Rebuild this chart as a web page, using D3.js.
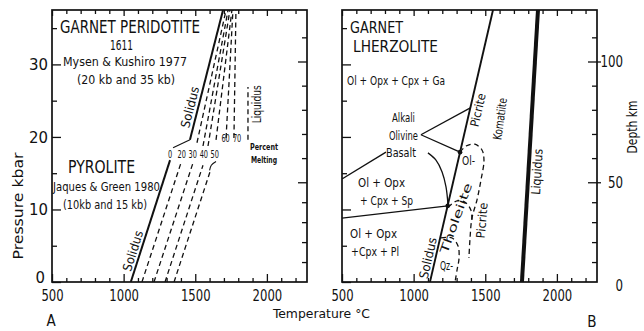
<!DOCTYPE html>
<html>
<head>
<meta charset="utf-8">
<script src="https://cdn.jsdelivr.net/npm/d3@7"></script>
<style>
  html, body { margin: 0; padding: 0; background: #fff; }
  svg { display: block; }
  text { font-family: "Liberation Sans Narrow", "DejaVu Sans Condensed", "Liberation Sans", sans-serif; fill: #111; }
</style>
</head>
<body>
<svg id="chart" width="644" height="331"></svg>
<script>
// ---------- axes ----------
const tempMajorTicks = [500, 1000, 1500, 2000];
const tempMinorTicks = [600, 700, 800, 900, 1100, 1200, 1300, 1400, 1600, 1700, 1800, 1900, 2100, 2200];
const pressureMajorTicks = [0, 10, 20, 30];
const pressureMinorTicks = [5, 15, 25, 35];
// depth (km) against pressure (kbar); lighter crust makes the scale non-linear
const depthKm = [0, 50, 100];
const depthKbar = [0, 13.75, 30.4];
const depthMajorTicks = [0, 50, 100];
const depthMinorTicks = [10, 20, 30, 40, 60, 70, 80, 90, 110];

// ---------- panel A: garnet peridotite 1611 (Mysen & Kushiro 1977) ----------
const mkSolidusT = [1463, 1694];
const mkSolidusP = [19.6, 37.5];
const mkPercent = ["20", "30", "40", "50", "60", "70"];
const mkLowT = [1512, 1554, 1589, 1645, 1715, 1770];
const mkLowP = [19.2, 18.75, 18.75, 19.6, 19.85, 19.85];
const mkTopT = [1715, 1729, 1742, 1756, 1763, 1784];
const mkTopP = [37.5, 37.5, 37.5, 37.5, 37.5, 37.5];
const mkLiquidusT = [1868, 1868];
const mkLiquidusP = [19.6, 26.9];

// ---------- panel A: pyrolite (Jaques & Green 1980) ----------
const pyPercent = ["0", "20", "30", "40", "50"];
const pyBaseT = [1050, 1128, 1212, 1289, 1352];
const pyTopT = [1324, 1400, 1484, 1554, 1603];
const pyTopP = [16.8, 16.4, 16.4, 16.1, 15.2];

// ---------- panel B: garnet lherzolite ----------
const lhSolidusT = [1114, 1554];
const lhSolidusP = [0, 37.5];
const lhLiquidusT = [1756, 1868];
const lhLiquidusP = [0, 37.5];
const garnetSpinelT = [500, 807];
const garnetSpinelP = [14.2, 17.9];
const basaltArcT = [1100, 1156, 1198, 1226, 1240];
const basaltArcP = [17.8, 16.8, 15.2, 13.1, 10.6];
const spinelPlagT = [500, 1238];
const spinelPlagP = [8.8, 10.5];
const olTholT = [1324, 1366, 1428, 1477, 1491, 1470, 1442, 1407, 1393, 1386];
const olTholP = [17.9, 18.75, 19.0, 18.2, 16.8, 14.06, 11.3, 8.8, 5.8, 3.3];
const tholArcT = [1240, 1303, 1359, 1400, 1407];
const tholArcP = [10.3, 11.2, 11.0, 9.9, 8.3];
const qzTholT = [1191, 1268, 1310, 1317, 1303, 1289];
const qzTholP = [6.07, 6.07, 4.96, 3.3, 1.65, 0];
const junctionT = [1324, 1238];
const junctionP = [17.9, 10.5];

const zip = (a, b) => a.map((v, i) => [v, b[i]]);

// ---------- scales ----------
const yP = d3.scaleLinear().domain([0, 37.5]).range([282, 10]);
const xA = d3.scaleLinear().domain([500, 2280]).range([52, 307]);
const xB = d3.scaleLinear().domain([500, 2280]).range([342, 597]);
const kmToKbar = d3.scaleLinear().domain(depthKm).range(depthKbar);
// axis-compatible depth scale (km -> pixel through the pressure scale)
const depthAxisScale = Object.assign(km => yP(kmToKbar(km)), {
  domain: () => [0, 120],
  range: () => [282, 10],
  copy: () => depthAxisScale,
  ticks: () => depthMajorTicks,
  tickFormat: () => d => d
});

const svg = d3.select("#chart");
const ink = "#111";
const DIGIT_W = 7.4;

function drawFrame(x, showLeftLabels, showRightLabels) {
  const g = svg.append("g");
  const [x0, x1] = x.range();
  const [yb, yt] = yP.range();

  const style = sel => {
    sel.select(".domain").remove();
    sel.selectAll("line").attr("stroke", ink).attr("stroke-width", 1.3);
    sel.selectAll("text").attr("fill", ink).style("font-size", "16px")
      .attr("textLength", function () { return this.textContent.length * DIGIT_W; })
      .attr("lengthAdjust", "spacingAndGlyphs");
  };
  const fmt = d3.format("d");

  // bottom
  g.append("g").attr("transform", `translate(0,${yb})`)
    .call(d3.axisBottom(x).tickValues(tempMinorTicks).tickSize(-4).tickFormat("")).call(style);
  g.append("g").attr("transform", `translate(0,${yb})`)
    .call(d3.axisBottom(x).tickValues(tempMajorTicks).tickSize(-8).tickPadding(8).tickFormat(fmt)).call(style);
  // top
  g.append("g").attr("transform", `translate(0,${yt})`)
    .call(d3.axisTop(x).tickValues(tempMinorTicks).tickSize(-4).tickFormat("")).call(style);
  g.append("g").attr("transform", `translate(0,${yt})`)
    .call(d3.axisTop(x).tickValues(tempMajorTicks).tickSize(-6).tickFormat("")).call(style);
  // left
  g.append("g").attr("transform", `translate(${x0},0)`)
    .call(d3.axisLeft(yP).tickValues(pressureMinorTicks).tickSize(-5).tickFormat("")).call(style);
  const left = g.append("g").attr("transform", `translate(${x0},0)`)
    .call(d3.axisLeft(yP).tickValues(pressureMajorTicks).tickSize(-9).tickPadding(4)
      .tickFormat(showLeftLabels ? fmt : "")).call(style);
  left.selectAll(".tick").filter(d => d === 0).select("text").attr("dy", "0.02em").attr("x", -7);
  left.selectAll(".tick text").attr("textLength", function () { return this.textContent.length * 9.5; });
  // right (depth)
  g.append("g").attr("transform", `translate(${x1},0)`)
    .call(d3.axisRight(depthAxisScale).tickValues(depthMinorTicks).tickSize(-5).tickFormat("")).call(style);
  g.append("g").attr("transform", `translate(${x1},0)`)
    .call(d3.axisRight(depthAxisScale).tickValues(depthMajorTicks.filter(d => d > 0)).tickSize(-9).tickFormat("")).call(style);
  if (showRightLabels) {
    const r = g.append("g").attr("transform", `translate(${x1},0)`)
      .call(d3.axisRight(depthAxisScale).tickValues(depthMajorTicks).tickSize(4).tickPadding(21).tickFormat(fmt)).call(style);
    r.selectAll(".tick").filter(d => d === 0).select("line").remove();
    r.selectAll("text").attr("text-anchor", "end").attr("x", 26)
      .attr("textLength", function () { return this.textContent.length * 7.5; });
    r.selectAll(".tick").filter(d => d === 0).select("text").attr("dy", "0.55em");
  }
  // frame
  g.append("rect").attr("x", x0).attr("y", yt).attr("width", x1 - x0).attr("height", yb - yt)
    .attr("fill", "none").attr("stroke", ink).attr("stroke-width", 1.7);
}

function clipFor(id, x) {
  const [x0, x1] = x.range();
  svg.append("clipPath").attr("id", id).append("rect")
    .attr("x", x0).attr("y", 10).attr("width", x1 - x0).attr("height", 272);
  return svg.append("g").attr("clip-path", `url(#${id})`);
}

function label(g, x, T, P, txt, o = {}) {
  const t = g.append("text").text(txt)
    .attr("font-size", o.size || 12)
    .attr("text-anchor", o.anchor || "start")
    .attr("font-weight", o.weight || "normal");
  if (o.len) t.attr("textLength", o.len).attr("lengthAdjust", "spacingAndGlyphs");
  if (o.rotate !== undefined) {
    t.attr("transform", `translate(${x(T)},${yP(P)}) rotate(${o.rotate})`).attr("dy", "0.35em");
  } else {
    t.attr("x", x(T)).attr("y", yP(P));
  }
  return t;
}

// ================= Panel A =================
drawFrame(xA, true, false);
const gA = clipFor("clipA", xA);
const lineA = d3.line().x(d => xA(d[0])).y(d => yP(d[1]));
const dashed = "5,3.5";

gA.append("path").attr("d", lineA(zip(mkSolidusT, mkSolidusP)))
  .attr("stroke", ink).attr("stroke-width", 2).attr("fill", "none");
mkPercent.forEach((p, i) => {
  gA.append("path").attr("d", lineA([[mkLowT[i], mkLowP[i]], [mkTopT[i], mkTopP[i]]]))
    .attr("stroke", ink).attr("stroke-width", 1.3).attr("fill", "none").attr("stroke-dasharray", dashed);
});
gA.append("path").attr("d", lineA(zip(mkLiquidusT, mkLiquidusP)))
  .attr("stroke", ink).attr("stroke-width", 1.3).attr("fill", "none").attr("stroke-dasharray", dashed);

pyPercent.forEach((p, i) => {
  const path = gA.append("path").attr("d", lineA([[pyBaseT[i], 0], [pyTopT[i], pyTopP[i]]]))
    .attr("stroke", ink).attr("fill", "none");
  if (i === 0) path.attr("stroke-width", 2);
  else path.attr("stroke-width", 1.3).attr("stroke-dasharray", dashed);
});

// leaders from the percent labels
gA.append("path").attr("d", lineA([[1345, 18.5], [mkSolidusT[0], mkSolidusP[0]]]))
  .attr("stroke", ink).attr("stroke-width", 1.1).attr("fill", "none");
gA.append("path").attr("d", d3.line().x(d => xA(d[0])).y(d => yP(d[1])).curve(d3.curveCatmullRom)(
  [[1645, 16.6], [1612, 16.1], [1600, 15.4]]))
  .attr("stroke", ink).attr("stroke-width", 1.1).attr("fill", "none");

// panel A text
label(svg, xA, 556, 34.3, "GARNET PERIDOTITE", { size: 17, len: 140 });
label(svg, xA, 905, 32.0, "1611", { size: 14, len: 23 });
label(svg, xA, 577, 29.8, "Mysen & Kushiro 1977", { size: 13, len: 124 });
label(svg, xA, 675, 27.3, "(20 kb  and 35 kb)", { size: 13, len: 98 });
label(svg, xA, 612, 15.0, "PYROLITE", { size: 17, len: 67 });
label(svg, xA, 507, 12.5, "Jaques & Green 1980", { size: 13, len: 107 });
label(svg, xA, 577, 10.1, "(10kb and 15 kb)", { size: 13, len: 84 });
label(svg, xA, 1463, 24.1, "Solidus", { size: 12.5, anchor: "middle", rotate: -75.8, len: 42 });
label(svg, xA, 1065, 4.3, "Solidus", { size: 12.5, anchor: "middle", rotate: -72.7, len: 42 });
label(svg, xA, 1931, 24.5, "Liquidus", { size: 12.5, anchor: "middle", rotate: -90, len: 38 });
const pctLabelT = [1325, 1405, 1482, 1560, 1636];
pyPercent.forEach((p, i) => label(svg, xA, pctLabelT[i], 17.1, p,
  { size: 10, anchor: "middle", len: p.length * 4.2 }));
label(svg, xA, 1712, 19.3, "60", { size: 10, anchor: "middle", len: 8.4 });
label(svg, xA, 1792, 19.3, "70", { size: 10, anchor: "middle", len: 8.4 });
label(svg, xA, 1980, 18.2, "Percent", { size: 9, anchor: "middle", weight: "bold", len: 28 });
label(svg, xA, 1980, 16.4, "Melting", { size: 9, anchor: "middle", weight: "bold", len: 26 });

// ================= Panel B =================
drawFrame(xB, false, true);
const gB = clipFor("clipB", xB);
const lineB = d3.line().x(d => xB(d[0])).y(d => yP(d[1]));
const curveB = d3.line().x(d => xB(d[0])).y(d => yP(d[1])).curve(d3.curveCatmullRom);

gB.append("path").attr("d", lineB(zip(lhSolidusT, lhSolidusP)))
  .attr("stroke", ink).attr("stroke-width", 1.9).attr("fill", "none");
gB.append("path").attr("d", lineB(zip(lhLiquidusT, lhLiquidusP)))
  .attr("stroke", ink).attr("stroke-width", 4).attr("fill", "none");
gB.append("path").attr("d", lineB(zip(garnetSpinelT, garnetSpinelP)))
  .attr("stroke", ink).attr("stroke-width", 1.3).attr("fill", "none");
gB.append("path").attr("d", curveB(zip(basaltArcT, basaltArcP)))
  .attr("stroke", ink).attr("stroke-width", 1.3).attr("fill", "none");
gB.append("path").attr("d", lineB(zip(spinelPlagT, spinelPlagP)))
  .attr("stroke", ink).attr("stroke-width", 1.3).attr("fill", "none");
// leaders from "Olivine"
gB.append("path").attr("d", lineB([[1051, 20.3], [1396, 24.0]]))
  .attr("stroke", ink).attr("stroke-width", 1.3).attr("fill", "none");
gB.append("path").attr("d", lineB([[1051, 20.3], [junctionT[0], junctionP[0]]]))
  .attr("stroke", ink).attr("stroke-width", 1.3).attr("fill", "none");
// melt-type boundaries
[[olTholT, olTholP], [tholArcT, tholArcP], [qzTholT, qzTholP]].forEach(([t, p]) => {
  gB.append("path").attr("d", curveB(zip(t, p)))
    .attr("stroke", ink).attr("stroke-width", 1.3).attr("fill", "none").attr("stroke-dasharray", "5,3.5");
});
gB.selectAll("circle.j").data(zip(junctionT, junctionP)).enter().append("circle")
  .attr("cx", d => xB(d[0])).attr("cy", d => yP(d[1])).attr("r", 2.3).attr("fill", ink);

// panel B text
label(svg, xB, 556, 34.3, "GARNET", { size: 16.5, len: 53 });
label(svg, xB, 577, 31.7, "LHERZOLITE", { size: 16.5, len: 85 });
label(svg, xB, 535, 27.2, "Ol + Opx + Cpx + Ga", { size: 11.5, len: 98 });
label(svg, xB, 929, 22.1, "Alkali", { size: 11.5, anchor: "middle", len: 23 });
label(svg, xB, 929, 19.6, "Olivine", { size: 11.5, anchor: "middle", len: 29 });
label(svg, xB, 912, 17.2, "Basalt", { size: 11.5, anchor: "middle", len: 30 });
label(svg, xB, 1449, 23.7, "Picrite", { size: 12, anchor: "middle", rotate: -77, len: 34 });
label(svg, xB, 1603, 22.5, "Komatiite", { size: 12, anchor: "middle", rotate: -82, len: 42 });
label(svg, xB, 1861, 15.2, "Liquidus", { size: 12.5, anchor: "middle", rotate: -86.6, len: 46 });
label(svg, xB, 1338, 16.1, "Ol-", { size: 12, len: 13 });
label(svg, xB, 1296, 8.8, "Tholeiite", { size: 11.5, anchor: "middle", rotate: -70, len: 74 });
label(svg, xB, 1184, 1.65, "Qz-", { size: 12, len: 13 });
label(svg, xB, 1100, 3.3, "Solidus", { size: 12.5, anchor: "middle", rotate: -77, len: 42 });
label(svg, xB, 1477, 8.5, "Picrite", { size: 12, anchor: "middle", rotate: -85, len: 36 });
label(svg, xB, 612, 13.1, "Ol + Opx", { size: 11.5, len: 47 });
label(svg, xB, 626, 10.6, "+ Cpx + Sp", { size: 11.5, len: 53 });
label(svg, xB, 556, 6.07, "Ol + Opx", { size: 11.5, len: 47 });
label(svg, xB, 563, 3.6, "+Cpx + Pl", { size: 11.5, len: 48 });

// ================= shared titles =================
svg.append("text").attr("x", 273).attr("y", 318).attr("font-size", 13)
  .attr("textLength", 97).attr("lengthAdjust", "spacingAndGlyphs").text("Temperature  °C");
svg.append("text").attr("transform", "translate(23,206) rotate(-90)").attr("text-anchor", "middle")
  .attr("font-size", 14).attr("textLength", 107).attr("lengthAdjust", "spacingAndGlyphs").text("Pressure  kbar");
svg.append("text").attr("transform", "translate(637,127) rotate(-90)").attr("text-anchor", "middle")
  .attr("font-size", 13.5).attr("textLength", 53).attr("lengthAdjust", "spacingAndGlyphs").text("Depth  km");
svg.append("text").attr("x", 51).attr("y", 326).attr("text-anchor", "middle").attr("font-size", 15).text("A");
svg.append("text").attr("x", 592).attr("y", 327).attr("text-anchor", "middle").attr("font-size", 15).text("B");
</script>
</body>
</html>
